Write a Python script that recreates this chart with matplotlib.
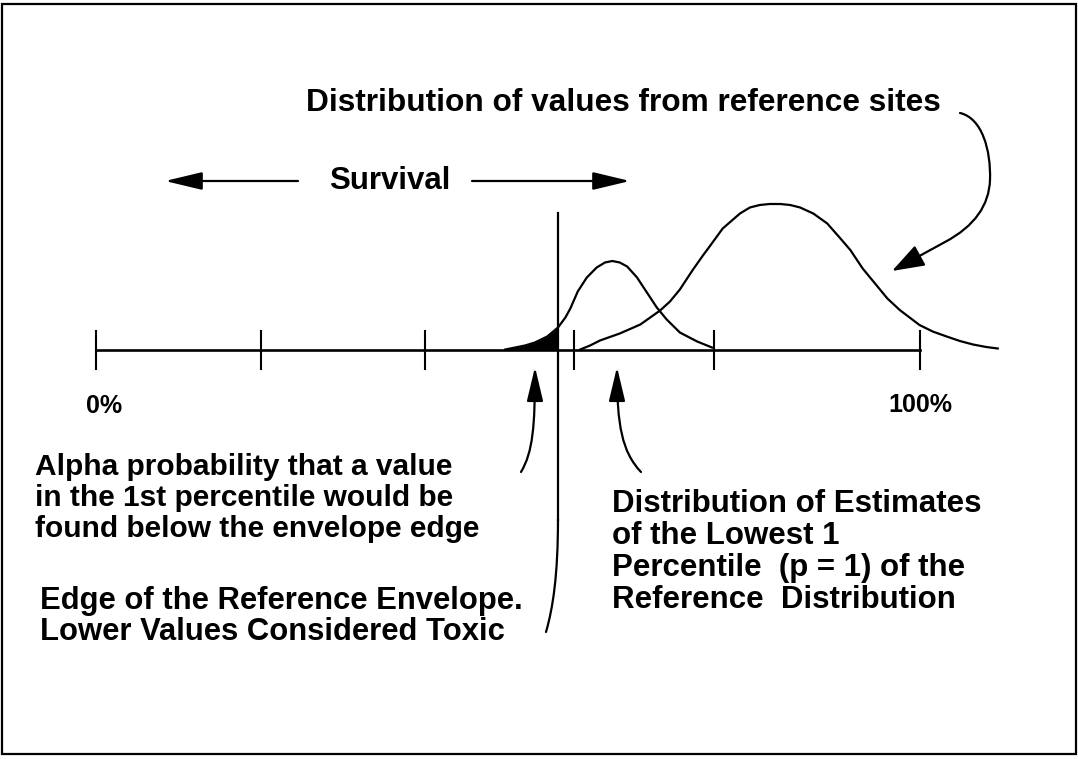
import numpy as np
import matplotlib
matplotlib.use("Agg")
import matplotlib.pyplot as plt
from matplotlib.path import Path
from matplotlib.patches import FancyArrowPatch, Rectangle

plt.rcParams['font.family'] = ['Liberation Sans', 'DejaVu Sans']

# scale positions in percent of the reference range
tick_pct = [0, 20, 40, 58, 75, 100]
edge_pct = 56.1  # edge of the reference envelope

# distribution of estimates of the lowest 1 percentile (height above axis, px)
low_x = [49.7, 50.9, 52.1, 53.3, 54.8, 56.1, 57.0, 57.6, 58.5, 59.6, 60.8,
         61.8, 62.7, 63.6, 64.5, 65.7, 66.9, 68.1, 69.3, 70.9, 73.0, 74.8]
low_y = [0, 2, 4, 7, 13, 22, 32, 41, 58, 72, 82,
         87, 88.5, 87, 83, 72, 57, 42, 30, 17, 8, 2]

# distribution of values from reference sites
ref_x = [58.8, 60.0, 61.2, 63.6, 66.1, 68.5, 69.7, 70.9, 72.5, 73.7, 74.6,
         76.1, 78.2, 79.4, 80.6, 81.8, 83.1, 84.3, 85.5, 87.1, 88.8, 90.4,
         91.6, 93.1, 94.4, 96.1, 97.6, 100.0, 101.6, 103.3, 104.9, 106.5,
         108.1, 109.5]
ref_y = [0, 4, 9, 16, 25, 39, 48, 60, 80, 94, 104,
         121, 136, 142, 144.5, 145.5, 145.5, 144.5, 142, 136, 126, 111,
         99.5, 81, 68, 51, 39.5, 24.5, 18, 13, 8.5, 5,
         2.5, 1]

W, H = 1078, 759
X0, PX = 96.0, 8.235   # pixel of 0 %, pixels per percent
BASE = 349.5           # pixel row of the axis line

fig = plt.figure(figsize=(W / 100, H / 100), dpi=100)
ax = fig.add_axes([0, 0, 1, 1])
ax.set_xlim(-X0 / PX, (W - X0) / PX)
ax.set_ylim(-(H - BASE), BASE)
ax.axis('off')

# overlay in pixel coordinates for the annotations
ov = fig.add_axes([0, 0, 1, 1])
ov.set_xlim(0, W)
ov.set_ylim(H, 0)
ov.axis('off')
ov.patch.set_alpha(0)

ov.add_patch(Rectangle((2, 4), 1074, 750, fill=False, lw=1.6, ec='black'))

lw = 1.6
# axis line and ticks
ax.plot([tick_pct[0], tick_pct[-1]], [0, 0], color='black', lw=1.9)
for t in tick_pct:
    ax.plot([t, t], [-19, 19], color='black', lw=1.5)

# curves
ax.plot(low_x, low_y, color='black', lw=lw, solid_joinstyle='round')
ax.plot(ref_x, ref_y, color='black', lw=lw, solid_joinstyle='round')
lx = np.array(low_x)
ly = np.array(low_y)
m = lx <= edge_pct
ax.fill_between(lx[m], 0, ly[m], color='black', lw=0)

# envelope edge line
ax.plot([edge_pct, edge_pct], [137, -170], color='black', lw=lw)
ex = X0 + edge_pct * PX
p = Path([(ex, 519), (ex, 575), (ex - 5, 608), (ex - 12, 632)],
         [Path.MOVETO, Path.CURVE4, Path.CURVE4, Path.CURVE4])
ov.add_patch(FancyArrowPatch(path=p, arrowstyle='-', lw=lw, color='black'))


def arrow(verts, codes, hl=2.3, hw=0.55):
    ov.add_patch(FancyArrowPatch(
        path=Path(verts, codes),
        arrowstyle=f'-|>,head_length={hl},head_width={hw}',
        mutation_scale=10, lw=lw, color='black', shrinkA=0, shrinkB=0))


C4 = [Path.MOVETO, Path.CURVE4, Path.CURVE4, Path.CURVE4]
# survival arrows
arrow([(298, 181), (165, 181)], [Path.MOVETO, Path.LINETO])
arrow([(472, 181), (630, 181)], [Path.MOVETO, Path.LINETO])
# alpha arrow and percentile arrow
arrow([(521, 472), (533, 452), (535, 425), (535, 367)], C4, hl=2.1, hw=0.5)
arrow([(641, 472), (622, 452), (617, 425), (617, 367)], C4, hl=2.1, hw=0.5)
# reference sites arrow
arrow([(960, 113), (982, 118), (991, 150), (990, 180),
       (989, 205), (975, 226), (945, 242), (892, 271)],
      [Path.MOVETO, Path.CURVE4, Path.CURVE4, Path.CURVE4,
       Path.CURVE4, Path.CURVE4, Path.CURVE4, Path.LINETO], hl=2.0, hw=0.7)

kw = dict(va='center', color='black', fontweight='bold')
ov.text(306, 103, 'Distribution of values from reference sites',
        ha='left', fontsize=22.8, **kw)
ov.text(390, 181, 'Survival', ha='center', fontsize=22.5, **kw)
ov.text(104, 406, '0%', ha='center', fontsize=18, **kw)
ov.text(920, 405, '100%', ha='center', fontsize=18, **kw)

for i, s in enumerate(['Alpha probability that a value',
                       'in the 1st percentile would be',
                       'found below the envelope edge']):
    ov.text(35, 467 + 31 * i, s, ha='left', fontsize=21.5, **kw)
for i, s in enumerate(['Edge of the Reference Envelope.',
                       'Lower Values Considered Toxic']):
    ov.text(40, 601 + 31 * i, s, ha='left', fontsize=22.3, **kw)
for i, s in enumerate(['Distribution of Estimates',
                       'of the Lowest 1',
                       'Percentile  (p = 1) of the',
                       'Reference  Distribution']):
    ov.text(612, 504 + 32 * i, s, ha='left', fontsize=22.5, **kw)

fig.savefig('out.png', dpi=100)
